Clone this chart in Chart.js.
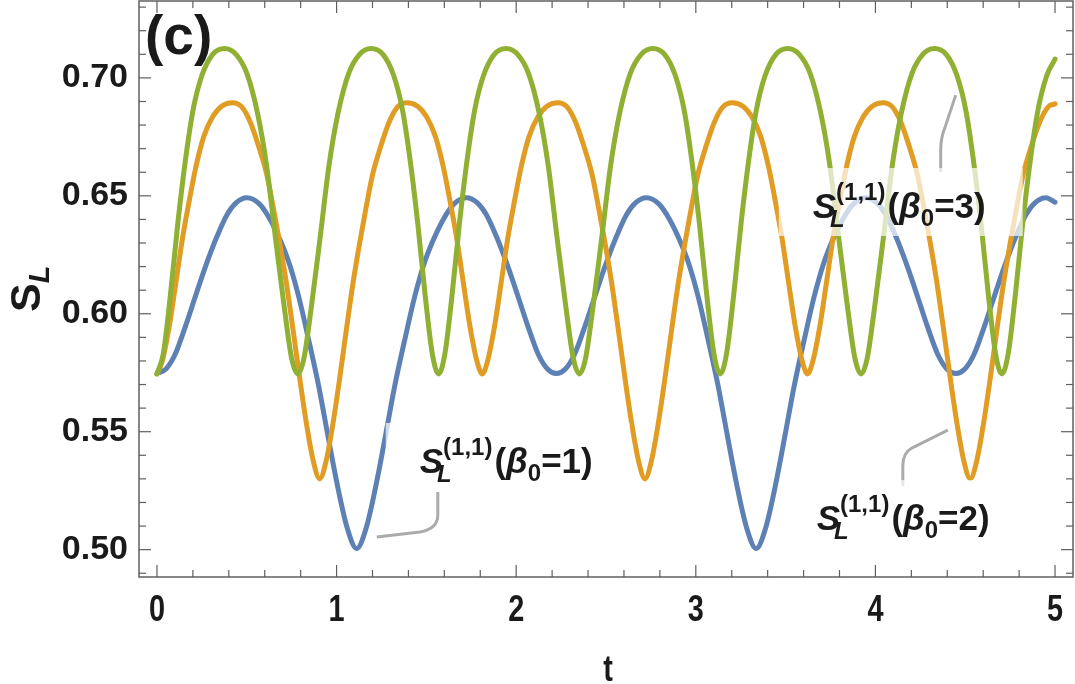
<!DOCTYPE html>
<html lang="es">
<head>
<meta charset="utf-8">
<title>S_L(t)</title>
<script src="https://cdn.jsdelivr.net/npm/chart.js@4.4.1/dist/chart.umd.min.js"></script>
<style>
  html, body { margin: 0; padding: 0; background: #fff; }
  #contenedor { width: 1075px; height: 684px; }
</style>
</head>
<body>
<div id="contenedor"><canvas id="graficaEntropia" width="1075" height="684"></canvas></div>
<script>
// Valores (t, S_L) para cada beta0
const tiemposAzul = [
    0, 0.05, 0.10, 0.16, 0.21, 0.27, 0.33, 0.39, 0.44, 0.50,
    0.57, 0.63, 0.69, 0.74, 0.79, 0.84, 0.90, 0.95, 1.00, 1.06,
    1.112, 1.164, 1.224, 1.274, 1.324, 1.384, 1.434, 1.484, 1.534, 1.594,
    1.654, 1.724, 1.784, 1.834, 1.894, 1.954, 2.014, 2.064, 2.124, 2.174, 2.224,
    2.274, 2.324, 2.384, 2.434, 2.494, 2.554, 2.614, 2.664, 2.724, 2.794,
    2.854, 2.914, 2.964, 3.014, 3.064, 3.124, 3.174, 3.224, 3.284, 3.336,
    3.388, 3.448, 3.498, 3.548, 3.608, 3.658, 3.708, 3.758, 3.818, 3.878,
    3.948, 4.008, 4.058, 4.118, 4.178, 4.238, 4.288, 4.348, 4.398, 4.448,
    4.498, 4.548, 4.608, 4.658, 4.718, 4.778, 4.838, 4.888, 4.948, 5.0
];
const entropiaAzul = [
    0.5747, 0.5766, 0.5826, 0.5950, 0.6065, 0.6200, 0.6320, 0.6420, 0.6470, 0.6492,
    0.6466, 0.6400, 0.6305, 0.6205, 0.6070, 0.5905, 0.5695, 0.5490, 0.5290, 0.5090,
    0.5005, 0.5090, 0.5290, 0.5490, 0.5695, 0.5905, 0.6070, 0.6205, 0.6305, 0.6400,
    0.6466, 0.6492, 0.6470, 0.6420, 0.6320, 0.6200, 0.6065, 0.5950, 0.5826, 0.5766, 0.5747,
    0.5766, 0.5826, 0.5950, 0.6065, 0.6200, 0.6320, 0.6420, 0.6470, 0.6492, 0.6466,
    0.6400, 0.6305, 0.6205, 0.6070, 0.5905, 0.5695, 0.5490, 0.5290, 0.5090, 0.5005,
    0.5090, 0.5290, 0.5490, 0.5695, 0.5905, 0.6070, 0.6205, 0.6305, 0.6400, 0.6466,
    0.6492, 0.6470, 0.6420, 0.6320, 0.6200, 0.6065, 0.5950, 0.5826, 0.5766, 0.5747,
    0.5766, 0.5826, 0.5950, 0.6065, 0.6200, 0.6320, 0.6420, 0.6470, 0.6492, 0.6473
];

const tiemposNaranja = [
    0, 0.030, 0.067, 0.105, 0.142, 0.180, 0.216, 0.260, 0.310, 0.360,
    0.420, 0.471, 0.521, 0.566, 0.610, 0.647, 0.684, 0.721, 0.758, 0.795,
    0.832, 0.869, 0.906, 0.943, 0.980, 1.017, 1.054, 1.091, 1.128, 1.165,
    1.202, 1.246, 1.291, 1.341, 1.391, 1.451, 1.501, 1.551, 1.595, 1.631,
    1.669, 1.706, 1.744, 1.781, 1.811,
    1.841, 1.878, 1.916, 1.953, 1.991, 2.027, 2.071, 2.121, 2.171, 2.231,
    2.282, 2.332, 2.377, 2.421, 2.458, 2.495, 2.532, 2.569, 2.606, 2.643,
    2.680, 2.717, 2.754, 2.791, 2.828, 2.865, 2.902, 2.939, 2.976, 3.013,
    3.057, 3.102, 3.152, 3.202, 3.262, 3.312, 3.362, 3.406, 3.442, 3.480,
    3.517, 3.555, 3.592, 3.622,
    3.652, 3.689, 3.727, 3.764, 3.802, 3.838, 3.882, 3.932, 3.982, 4.042,
    4.093, 4.143, 4.188, 4.232, 4.269, 4.306, 4.343, 4.380, 4.417, 4.454,
    4.491, 4.528, 4.565, 4.602, 4.639, 4.676, 4.713, 4.750, 4.787, 4.824,
    4.868, 4.913, 4.963, 5.000
];
const entropiaNaranja = [
    0.5745, 0.580, 0.594, 0.613, 0.632, 0.648, 0.662, 0.675, 0.6835, 0.688,
    0.6895, 0.6878, 0.681, 0.671, 0.6595, 0.6453, 0.6298, 0.6128, 0.593, 0.5725,
    0.5535, 0.538, 0.530, 0.538, 0.5535, 0.5725, 0.593, 0.6128, 0.6298, 0.6453,
    0.6595, 0.671, 0.681, 0.6878, 0.6895, 0.688, 0.6835, 0.675, 0.662, 0.648,
    0.632, 0.613, 0.594, 0.580, 0.5745,
    0.580, 0.594, 0.613, 0.632, 0.648, 0.662, 0.675, 0.6835, 0.688, 0.6895,
    0.6878, 0.681, 0.671, 0.6595, 0.6453, 0.6298, 0.6128, 0.593, 0.5725, 0.5535,
    0.538, 0.530, 0.538, 0.5535, 0.5725, 0.593, 0.6128, 0.6298, 0.6453, 0.6595,
    0.671, 0.681, 0.6878, 0.6895, 0.688, 0.6835, 0.675, 0.662, 0.648, 0.632,
    0.613, 0.594, 0.580, 0.5745,
    0.580, 0.594, 0.613, 0.632, 0.648, 0.662, 0.675, 0.6835, 0.688, 0.6895,
    0.6878, 0.681, 0.671, 0.6595, 0.6453, 0.6298, 0.6128, 0.593, 0.5725, 0.5535,
    0.538, 0.530, 0.538, 0.5535, 0.5725, 0.593, 0.6128, 0.6298, 0.6453, 0.6595,
    0.671, 0.681, 0.6878, 0.6890
];

const tiemposVerde = [
    0, 0.035, 0.075, 0.117, 0.160, 0.200, 0.250, 0.310, 0.376, 0.440, 0.500, 0.560, 0.610, 0.660, 0.710, 0.750,
    0.784, 0.818, 0.858, 0.908, 0.958, 1.008, 1.068, 1.128, 1.192, 1.258, 1.318, 1.368, 1.408, 1.451, 1.493, 1.533,
    1.568, 1.603, 1.643, 1.685, 1.728, 1.768, 1.818, 1.878, 1.944, 2.008, 2.068, 2.128, 2.178, 2.228, 2.278, 2.318,
    2.352, 2.386, 2.426, 2.476, 2.526, 2.576, 2.636, 2.696, 2.760, 2.826, 2.886, 2.936, 2.976, 3.019, 3.061, 3.101,
    3.136, 3.171, 3.211, 3.253, 3.296, 3.336, 3.386, 3.446, 3.512, 3.576, 3.636, 3.696, 3.746, 3.796, 3.846, 3.886,
    3.920, 3.954, 3.994, 4.044, 4.094, 4.144, 4.204, 4.264, 4.328, 4.394, 4.454, 4.504, 4.544, 4.587, 4.629, 4.669,
    4.704, 4.739, 4.779, 4.821, 4.864, 4.904, 4.954, 5.000
];
const entropiaVerde = [
    0.5745, 0.583, 0.608, 0.639, 0.666, 0.686, 0.701, 0.710, 0.7125, 0.710, 0.702, 0.685, 0.663, 0.632, 0.602, 0.581,
    0.5745, 0.581, 0.602, 0.632, 0.663, 0.685, 0.702, 0.710, 0.7125, 0.710, 0.701, 0.686, 0.666, 0.639, 0.608, 0.583,
    0.5745, 0.583, 0.608, 0.639, 0.666, 0.686, 0.701, 0.710, 0.7125, 0.710, 0.702, 0.685, 0.663, 0.632, 0.602, 0.581,
    0.5745, 0.581, 0.602, 0.632, 0.663, 0.685, 0.702, 0.710, 0.7125, 0.710, 0.701, 0.686, 0.666, 0.639, 0.608, 0.583,
    0.5745, 0.583, 0.608, 0.639, 0.666, 0.686, 0.701, 0.710, 0.7125, 0.710, 0.702, 0.685, 0.663, 0.632, 0.602, 0.581,
    0.5745, 0.581, 0.602, 0.632, 0.663, 0.685, 0.702, 0.710, 0.7125, 0.710, 0.701, 0.686, 0.666, 0.639, 0.608, 0.583,
    0.5745, 0.583, 0.608, 0.639, 0.666, 0.686, 0.701, 0.708
];

// Ejes
const ticksX = [0, 1, 2, 3, 4, 5];
const ticksY = [0.50, 0.55, 0.60, 0.65, 0.70];
const rangoX = [-0.1, 5.1];
const rangoY = [0.4884, 0.7326];

// Etiquetas de las curvas: beta0, punto del texto (t, S) y punta de la guia (t, S)
const betas = ['1', '2', '3'];
const posTexto = [[1.463, 0.5325], [3.673, 0.5083], [3.651, 0.6406]];
const posPunta = [[1.224, 0.5054], [4.403, 0.5507], [4.447, 0.6927]];

const FUENTE = '"Liberation Sans", Arial, Helvetica, sans-serif';
const colorTexto = '#1a1a1a';
const compresionX = 0.78; // las cifras del eje t son estrechas

// forma de cada guia (en pixeles, relativa a la punta)
const formasGuia = [
    [[43, -5], [61, -8], [61, -22], [61, -45]],
    [[-36, 18], [-45, 23], [-45, 36], [-45, 56]],
    [[-11, 33], [-15, 43], [-15, 55], [-15, 77]]
];

function aPuntos(ts, ss) {
    return ts.map((t, i) => ({ x: t, y: ss[i] }));
}

function textoEstrecho(ctx, texto, cx, base) {
    ctx.save();
    ctx.translate(cx, base);
    ctx.scale(compresionX, 1);
    ctx.textAlign = 'center';
    ctx.textBaseline = 'alphabetic';
    ctx.fillText(texto, 0, 0);
    ctx.restore();
}

function dibujarEtiqueta(ctx, x0, base, beta) {
    let x = x0;
    ctx.fillStyle = colorTexto;
    ctx.textAlign = 'left';
    ctx.textBaseline = 'alphabetic';
    ctx.font = 'italic bold 35px ' + FUENTE;
    ctx.fillText('S', x, base);
    x += ctx.measureText('S').width;
    ctx.font = 'italic bold 24px ' + FUENTE;
    ctx.fillText('L', x - 6, base + 9);
    ctx.font = 'bold 24px ' + FUENTE;
    ctx.fillText('(1,1)', x, base - 18);
    x += ctx.measureText('(1,1)').width + 2;
    ctx.font = 'bold 35px ' + FUENTE;
    ctx.fillText('(', x, base);
    x += ctx.measureText('(').width;
    ctx.font = 'italic bold 35px ' + FUENTE;
    ctx.fillText('\u03B2', x, base);
    x += ctx.measureText('\u03B2').width;
    ctx.font = 'bold 24px ' + FUENTE;
    ctx.fillText('0', x, base + 8);
    x += ctx.measureText('0').width;
    ctx.font = 'bold 35px ' + FUENTE;
    ctx.fillText('=' + beta + ')', x, base);
}

const marcoYAnotaciones = {
    id: 'marcoYAnotaciones',
    afterDatasetsDraw(chart) {
        const { ctx, scales: { x, y } } = chart;
        ctx.save();
        // guias grises
        posPunta.forEach((p, i) => {
            const px = x.getPixelForValue(p[0]);
            const py = y.getPixelForValue(p[1]);
            const g = formasGuia[i];
            ctx.strokeStyle = '#ababab';
            ctx.lineWidth = 3;
            ctx.beginPath();
            ctx.moveTo(px, py);
            ctx.lineTo(px + g[0][0], py + g[0][1]);
            ctx.quadraticCurveTo(px + g[1][0], py + g[1][1], px + g[2][0], py + g[2][1]);
            ctx.lineTo(px + g[3][0], py + g[3][1]);
            ctx.stroke();
        });
        // fondo semitransparente y texto
        posTexto.forEach((p, i) => {
            const lx = x.getPixelForValue(p[0]);
            const ly = y.getPixelForValue(p[1]);
            ctx.fillStyle = 'rgba(255,255,255,0.7)';
            ctx.fillRect(lx - 34, ly - 50, 244, 68);
            dibujarEtiqueta(ctx, lx, ly, betas[i]);
        });
        ctx.restore();
    },
    afterDraw(chart) {
        const { ctx, chartArea: a, scales: { x, y } } = chart;
        ctx.save();
        ctx.strokeStyle = '#5f5f5f';
        ctx.lineWidth = 1.5;
        ctx.strokeRect(a.left, a.top, a.right - a.left, a.bottom - a.top);

        const linea = (x1, y1, x2, y2) => {
            ctx.beginPath();
            ctx.moveTo(x1, y1);
            ctx.lineTo(x2, y2);
            ctx.stroke();
        };
        ctx.lineWidth = 1.2;
        // marcas en x cada 0.2
        for (let i = 0; i <= 25; i++) {
            const p = x.getPixelForValue(i / 5);
            const largo = i % 5 === 0 ? 12 : 7;
            linea(p, a.bottom, p, a.bottom - largo);
            linea(p, a.top, p, a.top + largo);
        }
        // marcas en y cada 0.01
        for (let i = 49; i <= 73; i++) {
            const p = y.getPixelForValue(i / 100);
            const largo = i % 5 === 0 ? 12 : 7;
            linea(a.left, p, a.left + largo, p);
            linea(a.right, p, a.right - largo, p);
        }

        ctx.fillStyle = colorTexto;
        // numeros del eje t (de la escala de Chart.js)
        ctx.font = 'bold 37px ' + FUENTE;
        x.ticks.forEach(tk => {
            textoEstrecho(ctx, String(tk.value), x.getPixelForValue(tk.value), a.bottom + 44);
        });
        // titulo eje x
        ctx.font = 'bold 37px ' + FUENTE;
        textoEstrecho(ctx, 't', (a.left + a.right) / 2 + 2, 681);

        // (c)
        ctx.font = 'bold 55px ' + FUENTE;
        ctx.textAlign = 'left';
        ctx.textBaseline = 'alphabetic';
        ctx.fillText('(c)', 145, 54);

        // titulo eje y: S_L rotado
        ctx.translate(40, 312);
        ctx.rotate(-Math.PI / 2);
        ctx.font = 'bold 43px ' + FUENTE;
        ctx.fillText('S', 0, 0);
        const anchoS = ctx.measureText('S').width;
        ctx.font = 'italic bold 29px ' + FUENTE;
        ctx.fillText('L', anchoS, 9);
        ctx.restore();
    }
};

const ctxGrafica = document.getElementById('graficaEntropia').getContext('2d');
const graficaEntropia = new Chart(ctxGrafica, {
    type: 'scatter',
    data: {
        datasets: [
            {
                label: 'beta0 = 3',
                data: aPuntos(tiemposVerde, entropiaVerde),
                borderColor: '#8fb032',
                order: 0
            },
            {
                label: 'beta0 = 2',
                data: aPuntos(tiemposNaranja, entropiaNaranja),
                borderColor: '#e19c24',
                order: 1
            },
            {
                label: 'beta0 = 1',
                data: aPuntos(tiemposAzul, entropiaAzul),
                borderColor: '#5e81b5',
                order: 2
            }
        ].map(d => Object.assign(d, {
            showLine: true,
            borderWidth: 5,
            pointRadius: 0,
            fill: false,
            cubicInterpolationMode: 'monotone',
            borderCapStyle: 'round',
            borderJoinStyle: 'round'
        }))
    },
    options: {
        responsive: false,
        animation: false,
        layout: { padding: { top: 1, right: 2, left: 0, bottom: 0 } },
        plugins: {
            legend: { display: false },
            tooltip: { enabled: false }
        },
        scales: {
            x: {
                type: 'linear',
                min: rangoX[0],
                max: rangoX[1],
                grid: { display: false, drawTicks: false },
                border: { display: false },
                afterBuildTicks: s => { s.ticks = ticksX.map(v => ({ value: v })); },
                afterFit: s => {
                    s.height = 107;
                    s.paddingLeft = 0; s.paddingRight = 0;
                },
                ticks: {
                    display: false,
                    autoSkip: false,
                    maxRotation: 0
                }
            },
            y: {
                type: 'linear',
                min: rangoY[0],
                max: rangoY[1],
                grid: { display: false, drawTicks: false },
                border: { display: false },
                afterBuildTicks: s => { s.ticks = ticksY.map(v => ({ value: v })); },
                afterFit: s => {
                    s.width = 139;
                    s.paddingTop = 0; s.paddingBottom = 0;
                },
                ticks: {
                    padding: 11,
                    color: colorTexto,
                    font: { family: FUENTE, size: 34, weight: 'bold' },
                    callback: v => Number(v).toFixed(2)
                }
            }
        }
    },
    plugins: [marcoYAnotaciones]
});
</script>
</body>
</html>
